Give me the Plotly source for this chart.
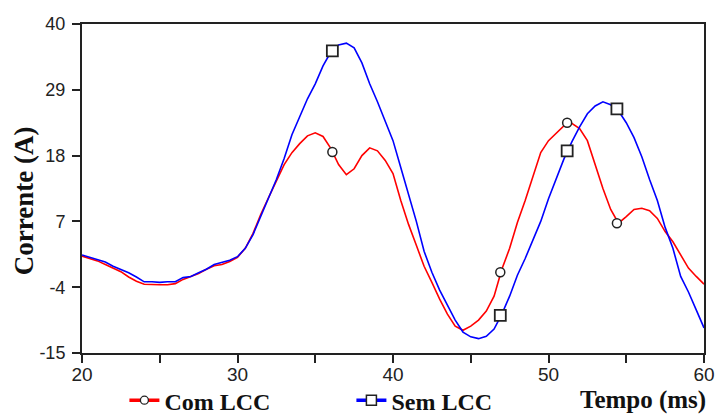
import plotly.graph_objects as go

# time axis (ms)
tempo = [20 + 0.5 * i for i in range(81)]

com_lcc = [1.2, 0.8, 0.4, -0.2, -0.8, -1.4, -2.3, -3.0, -3.5, -3.6,
           -3.6, -3.6, -3.4, -2.7, -2.2, -1.7, -1.0, -0.4, -0.2, 0.3,
           1.0, 2.5, 5.0, 8.2, 11.0, 13.9, 16.5, 18.5, 20.0, 21.3,
           21.8, 21.2, 19.2, 16.5, 14.8, 15.8, 18.0, 19.3, 18.8, 17.2,
           15.0, 10.5, 6.5, 3.0, -0.5, -3.2, -6.0, -8.5, -10.5, -11.2,
           -10.5, -9.5, -8.0, -5.5, -1.0, 2.5, 6.8, 10.5, 14.5, 18.5,
           20.5, 21.8, 23.0, 23.4, 22.5, 20.5, 16.5, 12.5, 9.0, 6.7,
           7.8, 9.0, 9.2, 8.8, 7.5, 5.3, 3.6, 1.5, -0.8, -2.2, -3.5]

sem_lcc = [1.4, 1.0, 0.6, 0.2, -0.5, -1.0, -1.6, -2.3, -3.1, -3.1,
           -3.2, -3.1, -3.1, -2.4, -2.2, -1.6, -1.0, -0.2, 0.1, 0.5,
           1.1, 2.5, 4.8, 7.8, 11.0, 14.0, 17.5, 21.5, 24.5, 27.5,
           30.0, 33.0, 35.3, 36.5, 36.8, 36.0, 33.5, 30.0, 27.0, 23.8,
           20.5, 16.0, 11.5, 7.0, 2.0, -1.5, -4.5, -7.0, -9.5, -11.5,
           -12.3, -12.6, -12.2, -11.0, -8.5, -5.5, -2.0, 0.8, 3.8, 7.0,
           10.8, 14.0, 17.5, 20.3, 22.8, 25.0, 26.3, 27.0, 26.5, 25.5,
           23.5, 21.0, 17.8, 14.0, 10.5, 6.0, 2.5, -2.2, -4.8, -7.8, -10.8]

marker_t = [36.1, 46.9, 51.2, 54.4]
com_marker_v = [18.6, -1.5, 23.5, 6.7]
sem_marker_v = [35.5, -8.7, 18.8, 25.8]

y_ticks = [-15, -4, 7, 18, 29, 40]
y_ticktext = ["-15", "-4", "7", "18", "29", "40"]
x_ticks = [20, 25, 30, 35, 40, 45, 50, 55, 60]
x_ticktext = ["20", "", "30", "", "40", "", "50", "", "60"]

RED = "#ff0000"
BLUE = "#0000ff"
SERIF = "Liberation Serif, Times New Roman, serif"

fig = go.Figure()
fig.add_trace(go.Scatter(x=tempo, y=com_lcc, mode="lines", line=dict(color=RED, width=1.6),
                         showlegend=False, hoverinfo="skip"))
fig.add_trace(go.Scatter(x=tempo, y=sem_lcc, mode="lines", line=dict(color=BLUE, width=1.6),
                         showlegend=False, hoverinfo="skip"))
fig.add_trace(go.Scatter(x=marker_t, y=com_marker_v, mode="markers", showlegend=False,
                         marker=dict(symbol="circle", size=9, color="white",
                                     line=dict(color="#222", width=1.5))))
fig.add_trace(go.Scatter(x=marker_t, y=sem_marker_v, mode="markers", showlegend=False,
                         marker=dict(symbol="square", size=11, color="white",
                                     line=dict(color="#222", width=1.8))))
# legend entries
fig.add_trace(go.Scatter(x=[None], y=[None], mode="lines+markers", name="<b>Com LCC</b>",
                         line=dict(color=RED, width=3.5),
                         marker=dict(symbol="circle", size=8, color="white",
                                     line=dict(color="#222", width=1.3))))
fig.add_trace(go.Scatter(x=[None], y=[None], mode="lines+markers", name="<b>Sem LCC</b>",
                         line=dict(color=BLUE, width=3.5),
                         marker=dict(symbol="square", size=10, color="white",
                                     line=dict(color="#222", width=1.5))))

fig.update_layout(
    width=715, height=416,
    margin=dict(l=82, r=11, t=24, b=63, autoexpand=False),
    paper_bgcolor="white", plot_bgcolor="white",
    font=dict(family="Liberation Sans, Arial, sans-serif", color="#222"),
    legend=dict(orientation="h", xref="container", yref="container",
                x=0.174, xanchor="left", y=0.037, yanchor="middle",
                font=dict(family=SERIF, size=24, color="#111"),
                entrywidth=182, entrywidthmode="pixels", itemwidth=30,
                bgcolor="rgba(0,0,0,0)"),
    annotations=[
        dict(text="<b>Tempo (ms)</b>", xref="paper", yref="paper", x=1.007, y=-0.143,
             xanchor="right", yanchor="middle", showarrow=False,
             font=dict(family=SERIF, size=25, color="#111")),
        dict(text="<b>Corrente (A)</b>", xref="paper", yref="paper", x=-0.093, y=0.462,
             xanchor="center", yanchor="middle", textangle=-90, showarrow=False,
             font=dict(family=SERIF, size=27, color="#111")),
    ],
)

fig.update_xaxes(range=[20, 60], tickmode="array", tickvals=x_ticks, ticktext=x_ticktext,
                 ticks="outside", ticklen=8, tickwidth=1.5, tickcolor="#222",
                 showline=True, linecolor="#222", linewidth=2, mirror=True,
                 showgrid=False, zeroline=False, tickfont=dict(size=19, color="#222"),
                 ticklabelstandoff=-5)
fig.update_yaxes(range=[-15, 40], tickmode="array", tickvals=y_ticks, ticktext=y_ticktext,
                 ticks="outside", ticklen=8, tickwidth=1.5, tickcolor="#222",
                 showline=True, linecolor="#222", linewidth=2, mirror=True,
                 showgrid=False, zeroline=False, tickfont=dict(size=18, color="#222"),
                 ticklabelstandoff=3)

fig.write_html("out.html", config={"displayModeBar": False},
               post_script="document.body.style.margin='0';document.body.style.overflow='hidden';")
